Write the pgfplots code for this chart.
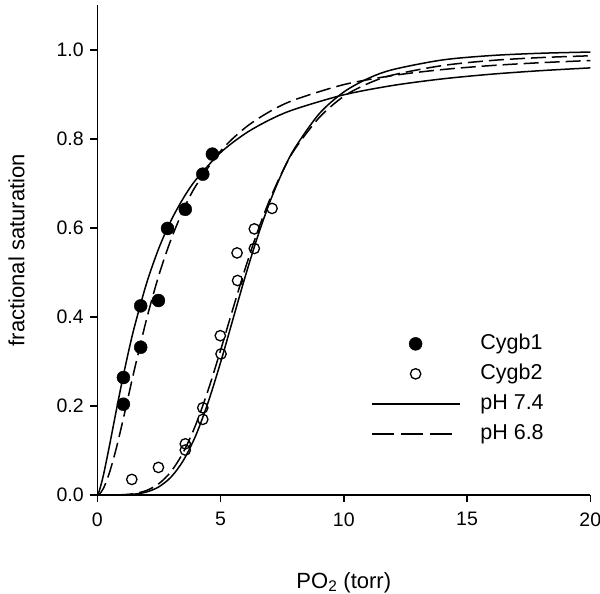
\documentclass[border=0pt]{standalone}
\usepackage{fontspec}
\setmainfont{Liberation Sans}
\usepackage{pgfplots}
\pgfplotsset{compat=1.18}
\pgfplotsset{
  markleg/.style={legend image code/.code={\path[draw=none,fill=none] (0pt,0pt) (88pt,0pt); \draw[##1] plot coordinates {(44pt,0pt)};}},
  solidleg/.style={legend image code/.code={\draw[##1] (0pt,0pt) -- (88pt,0pt);}},
  dashleg/.style={legend image code/.code={\path[draw=none,fill=none] (0pt,0pt) (88pt,0pt); \draw[##1] (0pt,0pt) -- (80pt,0pt);}},
}
\begin{document}
\begin{tikzpicture}
\useasboundingbox (-97.3pt,-99pt) rectangle (502.7pt,495pt);
\begin{axis}[
  at={(0pt,0pt)}, anchor=south west,
  scale only axis, width=493pt, height=489.5pt,
  xmin=0, xmax=20, ymin=0, ymax=1.1,
  axis x line*=bottom, axis y line*=left,
  axis line style={line width=1.5pt,-},
  xtick={0,5,10,15,20}, ytick={0,0.2,0.4,0.6,0.8,1.0},
  tick align=outside, major tick length=7pt,
  tick style={line width=1.5pt, black},
  /pgf/number format/assume math mode=true,
  yticklabel style={/pgf/number format/fixed, /pgf/number format/fixed zerofill, /pgf/number format/precision=1, xshift=-3pt},
  xticklabel style={yshift=-7pt},
  tick label style={font=\fontsize{19.5}{23}\selectfont},
  label style={font=\fontsize{22}{26}\selectfont},
  xlabel={PO\textsubscript{2} (torr)},
  ylabel={fractional saturation},
  xlabel style={at={(axis description cs:0.5,-0.19)}, anchor=base},
  ylabel style={at={(axis description cs:-0.164,0.5)}, anchor=center, rotate=0},
  legend cell align=left,
  legend style={draw=none, fill=none, font=\fontsize{21.5}{25}\selectfont,
    at={(axis cs:11.09,0.3665)}, anchor=north west, inner sep=0pt,
    row sep=6.5pt, column sep=18pt,
    nodes={inner sep=2pt, text height=15pt, text depth=4.5pt}},
]
% fitted curves
\addplot[black, line width=1.5pt, smooth, forget plot] coordinates {
(0,0) (0.05,0.0048) (0.1,0.0128) (0.2,0.0334) (0.3,0.0579) (0.5,0.1126) (0.75,0.1841) (1,0.2535) (1.25,0.3179) (1.5,0.3765) (2,0.4760) (2.5,0.5550) (3,0.6177) (3.5,0.6679) (4,0.7085) (5,0.7694) (6,0.8121) (7,0.8433) (8,0.8667) (10,0.8993) (12,0.9204) (14,0.9351) (16,0.9457) (18,0.9536) (20,0.9598)};
\addplot[black, line width=1.5pt, smooth, dash pattern=on 15pt off 6pt, forget plot] coordinates {
(0,0) (0.1,0.0030) (0.2,0.0103) (0.3,0.0211) (0.5,0.0512) (0.75,0.1006) (1,0.1581) (1.25,0.2192) (1.5,0.2804) (2,0.3954) (2.5,0.4943) (3,0.5757) (3.5,0.6417) (4,0.6949) (5,0.7729) (6,0.8253) (7,0.8618) (8,0.8880) (10,0.9222) (12,0.9427) (14,0.9560) (16,0.9651) (18,0.9715) (20,0.9763)};
\addplot[black, line width=1.5pt, smooth, forget plot] coordinates {
(0,0) (1,0.0003) (1.5,0.0019) (2,0.0068) (2.5,0.0184) (3,0.0408) (3.5,0.0785) (4,0.1344) (4.5,0.2089) (5,0.2977) (5.5,0.3943) (6,0.4907) (6.5,0.5800) (7,0.6584) (7.5,0.7244) (8,0.7785) (9,0.8566) (10,0.9056) (11,0.9364) (12,0.9561) (14,0.9776) (16,0.9876) (18,0.9927) (20,0.9954)};
\addplot[black, line width=1.5pt, smooth, dash pattern=on 15pt off 6pt, forget plot] coordinates {
(0,0) (1,0.0006) (1.5,0.0031) (2,0.0102) (2.5,0.0255) (3,0.0533) (3.5,0.0972) (4,0.1588) (4.5,0.2363) (5,0.3250) (5.5,0.4181) (6,0.5088) (6.5,0.5918) (7,0.6643) (7.5,0.7256) (8,0.7761) (9,0.8480) (10,0.8960) (11,0.9250) (12,0.9440) (14,0.9650) (16,0.9765) (18,0.9830) (20,0.9870)};
% data
\addplot[only marks, mark=*, mark size=6.5pt, black, markleg]
  coordinates {(1.06,0.204) (1.06,0.264) (1.76,0.332) (1.76,0.425) (2.48,0.437) (2.85,0.599) (3.57,0.642) (4.28,0.721) (4.67,0.766)};
\addlegendentry{Cygb1}
\addplot[only marks, mark=o, mark size=5.2pt, black, mark options={line width=1.3pt}, markleg]
  coordinates {(1.40,0.035) (2.48,0.062) (3.57,0.101) (3.57,0.115) (4.28,0.170) (4.28,0.196) (4.99,0.358) (5.02,0.317) (5.67,0.544) (5.69,0.482) (6.37,0.554) (6.37,0.598) (7.09,0.644)};
\addlegendentry{Cygb2}
\addlegendimage{black, line width=1.5pt, solidleg}
\addlegendentry{pH 7.4}
\addlegendimage{black, line width=1.5pt, dash pattern=on 22pt off 7pt, dashleg}
\addlegendentry{pH 6.8}
\end{axis}
\end{tikzpicture}
\end{document}
